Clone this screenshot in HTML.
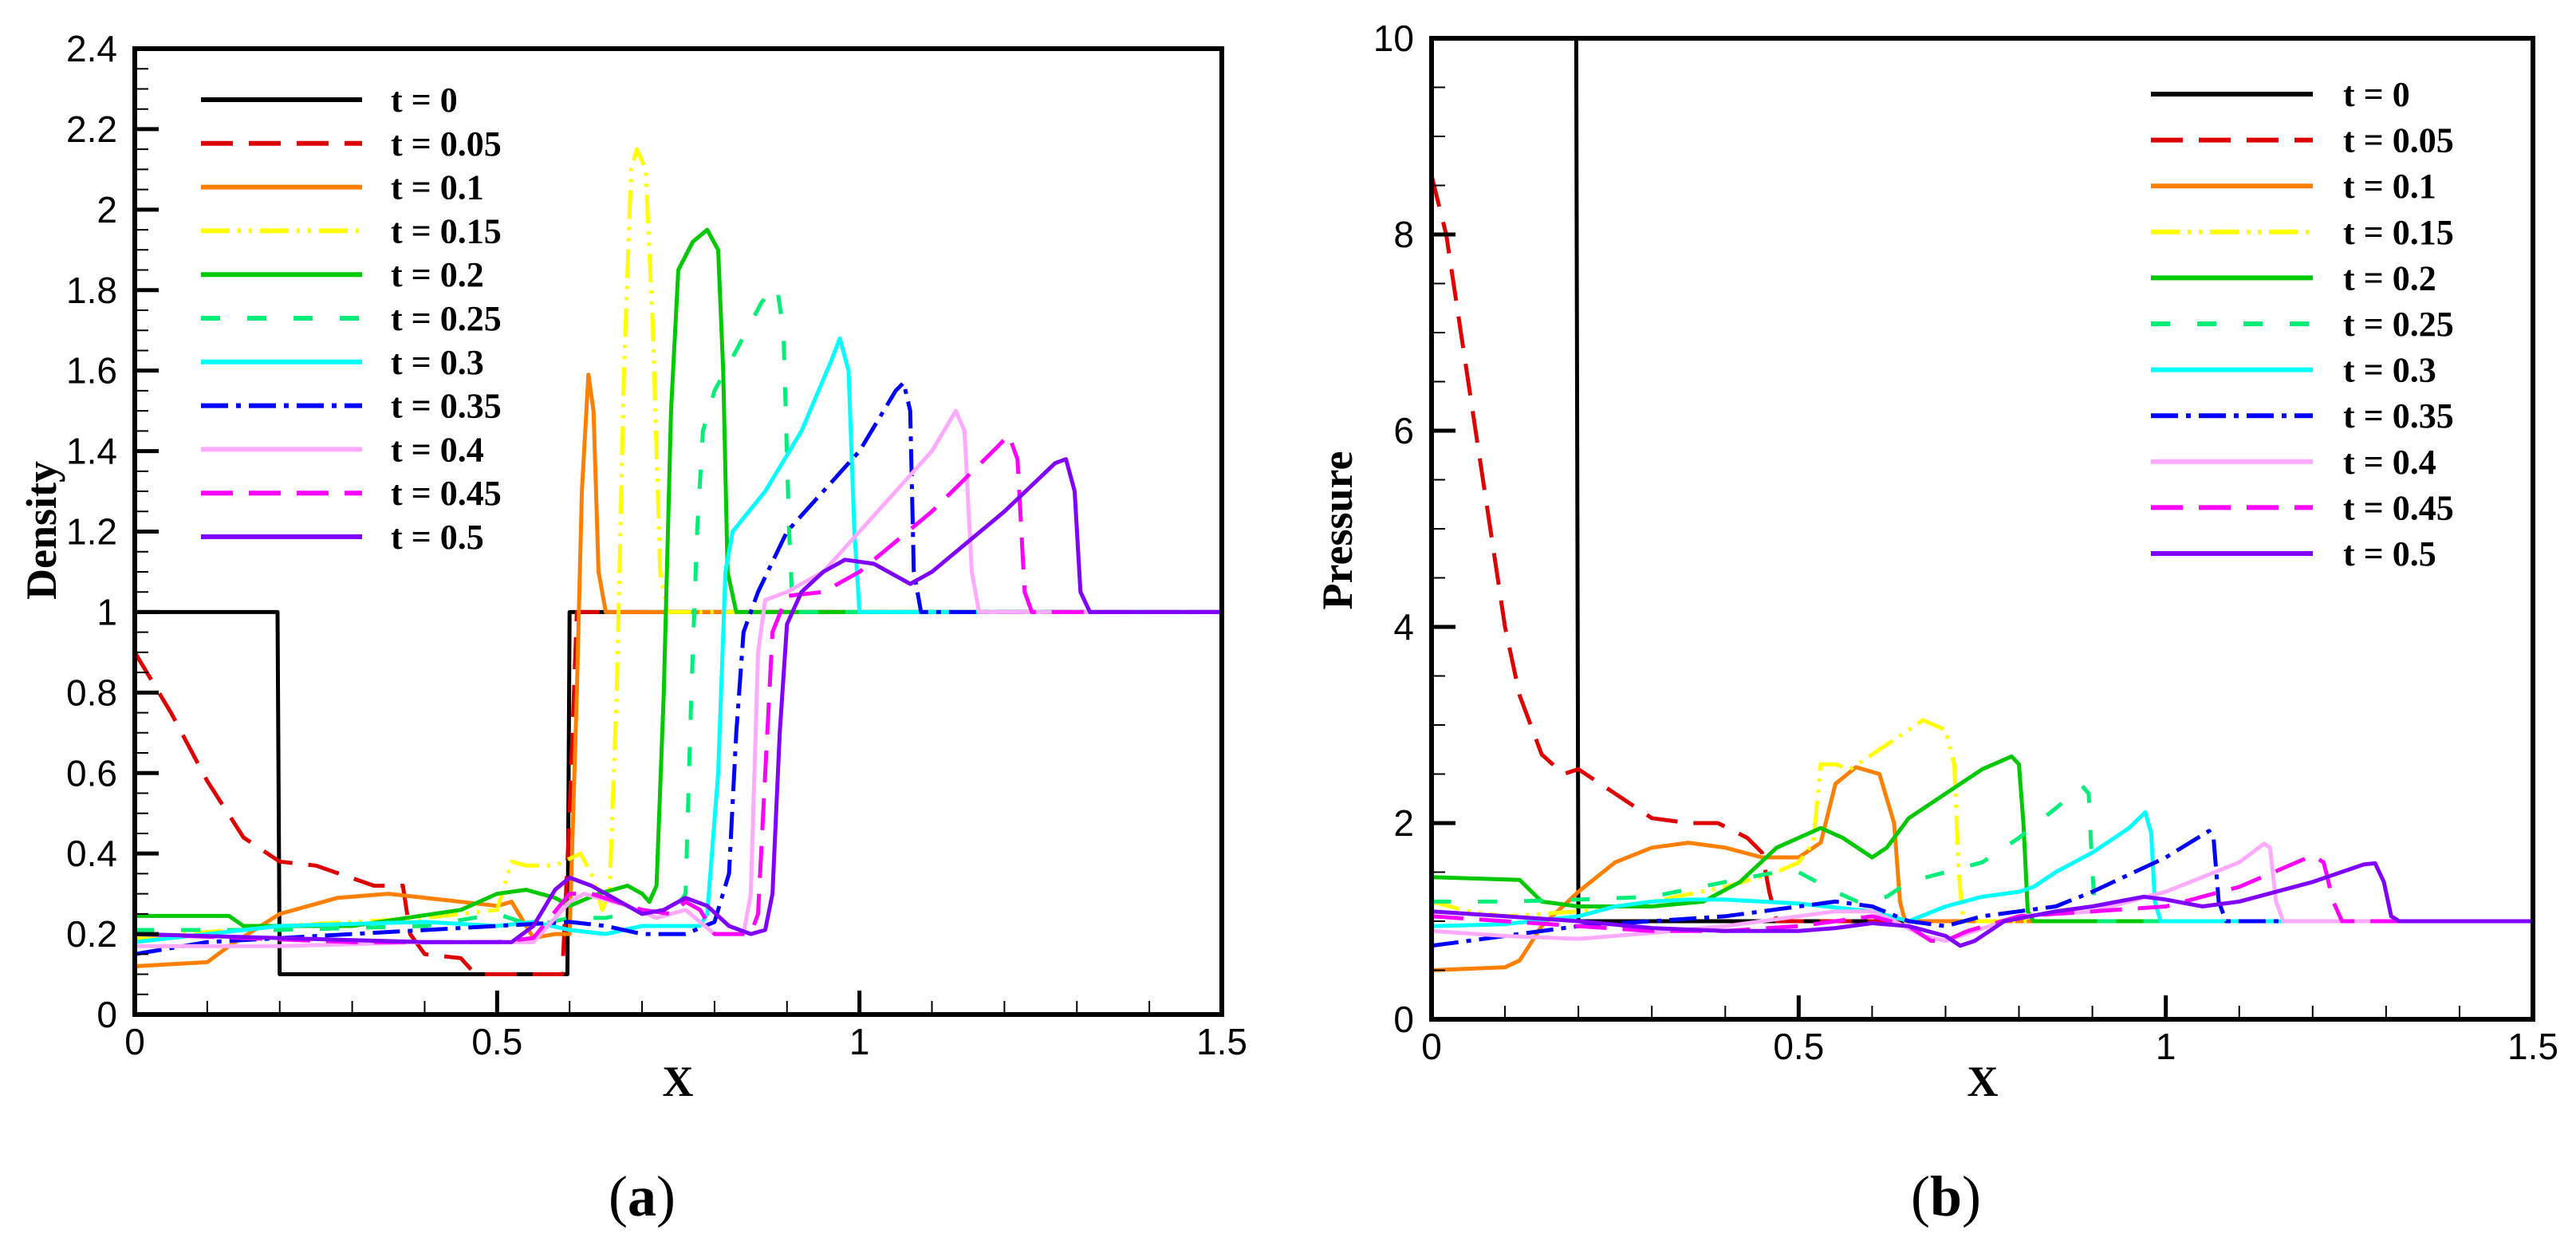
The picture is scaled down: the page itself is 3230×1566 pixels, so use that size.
<!DOCTYPE html>
<html><head><meta charset="utf-8"><style>
html,body{margin:0;padding:0;background:#fff}
svg{display:block}
.tick{font-family:"Liberation Sans",Arial,sans-serif;font-size:46px;fill:#000}
.leg{font-family:"Liberation Serif",serif;font-weight:bold;font-size:44px;fill:#000}
.ax{font-family:"Liberation Serif",serif;font-weight:bold;fill:#000}
</style></head><body>
<svg id="fig" width="3230" height="1566" viewBox="0 0 3230 1566" xmlns="http://www.w3.org/2000/svg">
<defs>
<clipPath id="clipA"><rect x="169" y="61" width="1363" height="1211"/></clipPath>
<clipPath id="clipB"><rect x="1795" y="48" width="1381" height="1230"/></clipPath>
</defs>
</svg>
<script>
// ---------- data ----------
const seriesLabels=["t = 0","t = 0.05","t = 0.1","t = 0.15","t = 0.2","t = 0.25","t = 0.3","t = 0.35","t = 0.4","t = 0.45","t = 0.5"];
const xTicks=[0,0.5,1,1.5];
const xTickLabels=["0","0.5","1","1.5"];
const densTicks=[0,0.2,0.4,0.6,0.8,1,1.2,1.4,1.6,1.8,2,2.2,2.4];
const densTickLabels=["0","0.2","0.4","0.6","0.8","1","1.2","1.4","1.6","1.8","2","2.2","2.4"];
const presTicks=[0,2,4,6,8,10];
const presTickLabels=["0","2","4","6","8","10"];

const dens0=[[0,1],[0.197,1],[0.2,0.1],[0.597,0.1],[0.6,1],[1.5,1]];
const dens1=[[0,0.9],[0.05,0.75],[0.1,0.58],[0.15,0.44],[0.2,0.38],[0.25,0.37],[0.33,0.32],[0.37,0.32],[0.38,0.2],[0.40,0.15],[0.45,0.14],[0.47,0.1],[0.59,0.1],[0.6,0.5],[0.61,1],[1.5,1]];
const dens2=[[0,0.12],[0.1,0.13],[0.13,0.17],[0.2,0.25],[0.28,0.29],[0.35,0.3],[0.45,0.28],[0.5,0.27],[0.52,0.28],[0.54,0.22],[0.55,0.19],[0.58,0.2],[0.6,0.2],[0.61,0.8],[0.617,1.3],[0.626,1.59],[0.633,1.5],[0.64,1.1],[0.65,1],[1.5,1]];
const dens3=[[0,0.19],[0.2,0.22],[0.4,0.24],[0.5,0.26],[0.52,0.38],[0.54,0.37],[0.58,0.37],[0.615,0.4],[0.63,0.35],[0.645,0.26],[0.655,0.3],[0.665,0.8],[0.675,1.6],[0.685,2.1],[0.693,2.15],[0.705,2.1],[0.715,1.7],[0.725,1.1],[0.735,1],[1.5,1]];
const dens4=[[0,0.245],[0.13,0.245],[0.15,0.22],[0.3,0.22],[0.45,0.26],[0.5,0.3],[0.54,0.31],[0.58,0.29],[0.6,0.27],[0.64,0.3],[0.68,0.32],[0.7,0.3],[0.71,0.28],[0.72,0.32],[0.73,0.8],[0.74,1.5],[0.75,1.85],[0.77,1.92],[0.79,1.95],[0.805,1.9],[0.812,1.6],[0.818,1.1],[0.83,1],[1.5,1]];
const dens5=[[0,0.21],[0.2,0.21],[0.4,0.22],[0.5,0.25],[0.55,0.22],[0.6,0.24],[0.65,0.24],[0.7,0.26],[0.74,0.25],[0.76,0.3],[0.768,0.8],[0.776,1.2],[0.784,1.45],[0.8,1.55],[0.83,1.65],[0.865,1.77],[0.886,1.81],[0.895,1.7],[0.903,1.2],[0.908,1],[1.5,1]];
const dens6=[[0,0.18],[0.1,0.2],[0.2,0.22],[0.4,0.23],[0.5,0.22],[0.55,0.23],[0.6,0.21],[0.65,0.2],[0.7,0.22],[0.78,0.22],[0.79,0.25],[0.805,0.6],[0.815,1.1],[0.825,1.2],[0.87,1.3],[0.92,1.45],[0.96,1.62],[0.973,1.68],[0.985,1.6],[0.993,1.2],[1.0,1],[1.5,1]];
const dens7=[[0,0.15],[0.1,0.18],[0.3,0.2],[0.5,0.22],[0.6,0.23],[0.65,0.22],[0.7,0.2],[0.76,0.2],[0.8,0.23],[0.82,0.35],[0.83,0.7],[0.84,0.95],[0.85,1.0],[0.86,1.05],[0.9,1.2],[1.0,1.4],[1.05,1.55],[1.061,1.57],[1.07,1.5],[1.075,1.1],[1.085,1],[1.5,1]];
const dens8=[[0,0.17],[0.2,0.17],[0.4,0.18],[0.55,0.18],[0.6,0.28],[0.62,0.3],[0.68,0.27],[0.72,0.24],[0.76,0.26],[0.8,0.2],[0.84,0.2],[0.85,0.3],[0.86,0.9],[0.87,1.03],[0.9,1.05],[0.95,1.1],[1.0,1.2],[1.1,1.4],[1.133,1.5],[1.145,1.45],[1.155,1.1],[1.165,1],[1.5,1]];
const dens9=[[0,0.2],[0.3,0.18],[0.5,0.18],[0.55,0.19],[0.6,0.3],[0.63,0.3],[0.7,0.26],[0.74,0.25],[0.76,0.28],[0.78,0.26],[0.8,0.2],[0.85,0.2],[0.86,0.25],[0.87,0.6],[0.88,0.95],[0.9,1.04],[0.95,1.05],[1.0,1.1],[1.1,1.25],[1.19,1.41],[1.206,1.44],[1.218,1.38],[1.228,1.05],[1.238,1],[1.5,1]];
const dens10=[[0,0.2],[0.2,0.19],[0.3,0.185],[0.4,0.18],[0.52,0.18],[0.55,0.22],[0.58,0.31],[0.6,0.34],[0.63,0.32],[0.67,0.28],[0.7,0.25],[0.73,0.26],[0.76,0.29],[0.79,0.27],[0.82,0.22],[0.85,0.2],[0.87,0.21],[0.88,0.3],[0.89,0.7],[0.9,0.97],[0.92,1.05],[0.95,1.1],[0.98,1.13],[1.02,1.12],[1.07,1.07],[1.1,1.1],[1.2,1.25],[1.27,1.37],[1.285,1.38],[1.297,1.3],[1.305,1.05],[1.318,1],[1.5,1]];

const pres0=[[0.197,12],[0.197,10],[0.2,1],[1.5,1]];
const pres1=[[0,8.6],[0.02,8],[0.05,6.5],[0.08,5],[0.1,4],[0.12,3.3],[0.15,2.7],[0.18,2.5],[0.2,2.55],[0.25,2.3],[0.3,2.05],[0.35,2.0],[0.39,2.0],[0.43,1.85],[0.45,1.7],[0.46,1.3],[0.47,1.0],[1.5,1]];
const pres2=[[0,0.5],[0.1,0.53],[0.12,0.6],[0.15,0.95],[0.2,1.3],[0.25,1.6],[0.3,1.75],[0.35,1.8],[0.4,1.75],[0.45,1.65],[0.5,1.65],[0.53,1.8],[0.55,2.4],[0.578,2.57],[0.61,2.5],[0.63,2.0],[0.638,1.2],[0.645,1],[1.5,1]];
const pres3=[[0,1.2],[0.05,1.1],[0.1,1.05],[0.2,1.1],[0.3,1.2],[0.4,1.35],[0.47,1.5],[0.5,1.6],[0.52,1.8],[0.53,2.6],[0.55,2.6],[0.57,2.55],[0.6,2.7],[0.65,2.95],[0.669,3.05],[0.7,2.95],[0.712,2.6],[0.718,1.5],[0.724,1],[1.5,1]];
const pres4=[[0,1.45],[0.12,1.42],[0.15,1.2],[0.2,1.15],[0.3,1.15],[0.37,1.2],[0.42,1.4],[0.47,1.75],[0.5,1.85],[0.53,1.95],[0.56,1.85],[0.6,1.65],[0.62,1.75],[0.65,2.05],[0.7,2.3],[0.75,2.55],[0.79,2.68],[0.8,2.6],[0.806,2.0],[0.812,1.1],[0.82,1],[1.5,1]];
const pres5=[[0,1.2],[0.1,1.2],[0.2,1.22],[0.3,1.25],[0.4,1.4],[0.47,1.5],[0.5,1.5],[0.55,1.3],[0.58,1.2],[0.62,1.25],[0.65,1.4],[0.7,1.5],[0.75,1.6],[0.8,1.85],[0.85,2.15],[0.886,2.38],[0.895,2.3],[0.9,1.5],[0.905,1],[1.5,1]];
const pres6=[[0,0.95],[0.1,0.97],[0.2,1.05],[0.25,1.15],[0.3,1.2],[0.35,1.22],[0.4,1.22],[0.45,1.2],[0.5,1.18],[0.6,1.1],[0.65,1.0],[0.7,1.15],[0.75,1.25],[0.8,1.3],[0.82,1.35],[0.85,1.5],[0.9,1.7],[0.95,1.95],[0.972,2.11],[0.98,1.9],[0.985,1.2],[0.993,1],[1.5,1]];
const pres7=[[0,0.75],[0.1,0.85],[0.2,0.95],[0.3,1.0],[0.4,1.05],[0.5,1.15],[0.55,1.2],[0.6,1.15],[0.65,1.0],[0.7,0.95],[0.75,1.05],[0.8,1.1],[0.85,1.15],[0.9,1.3],[1.0,1.65],[1.059,1.92],[1.065,1.85],[1.072,1.2],[1.082,1],[1.5,1]];
const pres8=[[0,0.9],[0.1,0.85],[0.2,0.82],[0.3,0.88],[0.4,0.95],[0.5,1.05],[0.55,1.1],[0.6,1.1],[0.63,1.0],[0.67,0.85],[0.7,0.8],[0.74,0.9],[0.8,1.05],[0.9,1.1],[1.0,1.3],[1.1,1.6],[1.134,1.79],[1.142,1.75],[1.15,1.2],[1.16,1],[1.5,1]];
const pres9=[[0,1.05],[0.1,1.0],[0.2,0.95],[0.3,0.9],[0.4,0.9],[0.5,0.95],[0.6,1.05],[0.65,0.95],[0.68,0.8],[0.7,0.8],[0.73,0.9],[0.8,1.05],[0.9,1.1],[1.0,1.15],[1.1,1.35],[1.2,1.67],[1.215,1.6],[1.228,1.2],[1.24,1],[1.5,1]];
const pres10=[[0,1.1],[0.1,1.05],[0.2,1.0],[0.3,0.93],[0.4,0.9],[0.5,0.9],[0.55,0.93],[0.6,0.98],[0.65,0.95],[0.7,0.85],[0.72,0.75],[0.74,0.8],[0.78,1.0],[0.85,1.1],[0.9,1.15],[0.97,1.25],[1.0,1.22],[1.05,1.15],[1.1,1.2],[1.2,1.4],[1.27,1.58],[1.285,1.59],[1.297,1.4],[1.307,1.05],[1.318,1],[1.5,1]];

const densSeries=[dens0,dens1,dens2,dens3,dens4,dens5,dens6,dens7,dens8,dens9,dens10];
const presSeries=[pres0,pres1,pres2,pres3,pres4,pres5,pres6,pres7,pres8,pres9,pres10];

// ---------- styles ----------
const colors=["#000000","#dd0000","#ff7f00","#ffff00","#00c800","#00ee77","#00ffff","#0000ff","#ffaaff","#ff00ff","#7f00ff"];
const dashes=["","40,20","","36,10,4,10,4,10","","24,34","","34,10,6,10","","40,20",""];
const NS="http://www.w3.org/2000/svg";
const svg=document.getElementById('fig');
function mk(tag,attrs,parent){const e=document.createElementNS(NS,tag);for(const k in attrs)e.setAttribute(k,attrs[k]);(parent||svg).appendChild(e);return e;}

function drawChart(cfg){
  const g=mk('g',{});
  
  
  const sx=v=>cfg.x0+(v-0)/1.5*(cfg.x1-cfg.x0);
  const sy=v=>cfg.y0-(v-cfg.ymin)/(cfg.ymax-cfg.ymin)*(cfg.y0-cfg.y1);
  const sg=mk('g',{'clip-path':'url(#'+cfg.clip+')'},g);
  cfg.series.forEach((s,i)=>{
    const d=s.map((p,j)=>(j?'L':'M')+sx(p[0]).toFixed(1)+','+sy(p[1]).toFixed(1)).join(' ');
    const p=mk('path',{d:d,fill:'none',stroke:colors[i],'stroke-width':5,'stroke-linejoin':'round'},sg);
    if(dashes[i])p.setAttribute('stroke-dasharray',dashes[i]);
    
    
  });
  const tg=mk('g',{stroke:'#000'},g);
  
  
  for(let v=0;v<=1.5001;v+=0.1){
    const major=Math.abs(v*2-Math.round(v*2))<1e-6;
    mk('line',{x1:sx(v),x2:sx(v),y1:cfg.y0,y2:cfg.y0-(major?30:17),'stroke-width':major?5:2},tg);
  }
  for(let v=cfg.ymin;v<=cfg.ymax+1e-6;v+=cfg.yminor){
    const major=cfg.yticks.some(t=>Math.abs(t-v)<1e-6);
    mk('line',{x1:cfg.x0,x2:cfg.x0+(major?30:17),y1:sy(v),y2:sy(v),'stroke-width':major?5:2},tg);
  }
  const fr=mk('rect',{x:cfg.x0,y:cfg.y1,width:cfg.x1-cfg.x0,height:cfg.y0-cfg.y1,fill:'none',stroke:'#000','stroke-width':6},g);
  
  
  xTicks.forEach((v,i)=>{
    const t=mk('text',{x:sx(v),y:cfg.y0+50,'text-anchor':'middle',class:'tick'},g);
    t.textContent=xTickLabels[i];
    
    
  });
  cfg.yticks.forEach((v,i)=>{
    const t=mk('text',{x:cfg.x0-22,y:sy(v)+16,'text-anchor':'end',class:'tick'},g);
    t.textContent=cfg.ylabels[i];
    
    
  });
  const xt=mk('text',{x:cfg.xlabelX,y:1374,'text-anchor':'middle',class:'ax','font-size':54},g);
  xt.textContent='X';
  
  
  const yt=mk('text',{x:0,y:0,'text-anchor':'middle',class:'ax','font-size':54,transform:'translate('+cfg.ylabelX+',665) rotate(-90)'},g);
  yt.textContent=cfg.ytitle;
  
  
  const lg=mk('g',{},g);
  
  
  seriesLabels.forEach((lab,i)=>{
    const y=cfg.legY+i*cfg.legStep;
    const l=mk('line',{x1:cfg.legX1,x2:cfg.legX2,y1:y,y2:y,stroke:colors[i],'stroke-width':6},lg);
    if(dashes[i])l.setAttribute('stroke-dasharray',dashes[i]);
    
    
    const t=mk('text',{x:cfg.legTX,y:y+15,class:'leg'},lg);
    t.textContent=lab;
    
    
  });
  const cap=mk('text',{x:cfg.capX,y:1524,'text-anchor':'middle','font-family':'"Liberation Serif",serif','font-size':72,fill:'#000'},g);
  cap.innerHTML='(<tspan font-weight="bold">'+cfg.cap+'</tspan>)';
  
  
}

drawChart({name:'density-chart',clip:'clipA',x0:169,x1:1532,y0:1272,y1:61,ymin:0,ymax:2.4,yminor:0.05,
  yticks:densTicks,ylabels:densTickLabels,series:densSeries,ytitle:'Density',ylabelX:70,xlabelX:850,
  legY:125,legStep:54.8,legX1:252,legX2:454,legTX:490,cap:'a',capX:805});
drawChart({name:'pressure-chart',clip:'clipB',x0:1795,x1:3176,y0:1278,y1:48,ymin:0,ymax:10,yminor:0.5,
  yticks:presTicks,ylabels:presTickLabels,series:presSeries,ytitle:'Pressure',ylabelX:1695,xlabelX:2486,
  legY:118,legStep:57.6,legX1:2697,legX2:2900,legTX:2938,cap:'b',capX:2440});
</script>
</body></html>
